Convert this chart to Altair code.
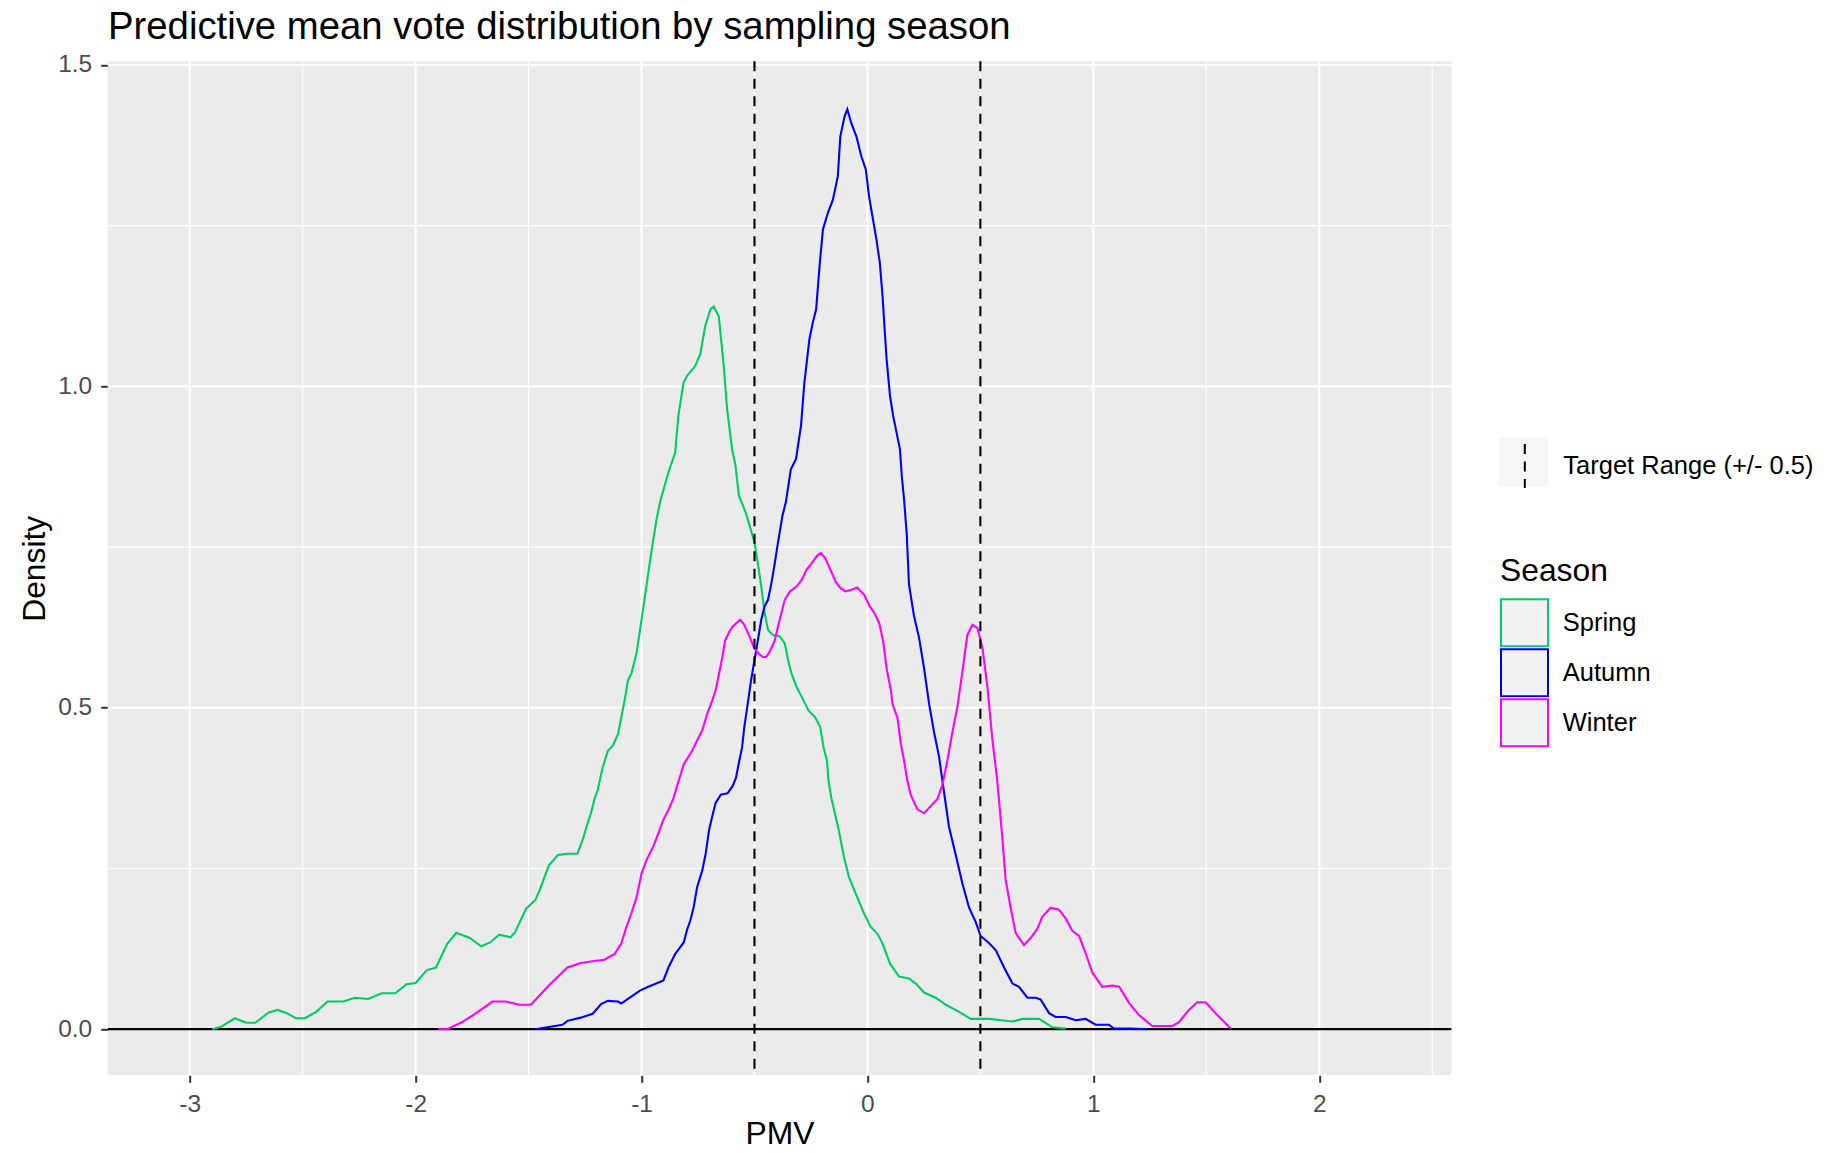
import altair as alt
import pandas as pd

FONT = "Liberation Sans"

# ---------------- data ----------------
seasons = ["Spring", "Autumn", "Winter"]
season_colors = ["#00CD66", "#0000FF", "#FF00FF"]

spring_x = [-2.90, -2.86, -2.80, -2.75, -2.71, -2.65, -2.61, -2.57, -2.53, -2.49,
            -2.44, -2.39, -2.32, -2.27, -2.21, -2.15, -2.09, -2.04, -2.00, -1.95,
            -1.91, -1.86, -1.82, -1.76, -1.71, -1.67, -1.63, -1.58, -1.56, -1.51,
            -1.47, -1.45, -1.41, -1.37, -1.33, -1.284, -1.261, -1.239, -1.224, -1.209,
            -1.194, -1.184, -1.172, -1.149, -1.127, -1.104, -1.090, -1.075, -1.060, -1.045,
            -1.022, -1.000, -0.985, -0.970, -0.955, -0.935, -0.918, -0.881, -0.851, -0.837,
            -0.814, -0.799, -0.762, -0.740, -0.718, -0.695, -0.680, -0.658, -0.636, -0.621,
            -0.599, -0.584, -0.569, -0.539, -0.517, -0.500, -0.485, -0.470, -0.455, -0.440,
            -0.418, -0.388, -0.366, -0.351, -0.336, -0.313, -0.291, -0.261, -0.231, -0.209,
            -0.194, -0.179, -0.172, -0.160, -0.127, -0.104, -0.082, -0.052, -0.015, 0.015,
            0.045, 0.066, 0.100, 0.140, 0.184, 0.214, 0.251, 0.302, 0.347, 0.406,
            0.457, 0.538, 0.597, 0.642, 0.686, 0.760, 0.819, 0.878]
spring_y = [0.000, 0.004, 0.017, 0.010, 0.010, 0.026, 0.030, 0.025, 0.017, 0.017,
            0.027, 0.043, 0.043, 0.049, 0.047, 0.056, 0.056, 0.070, 0.072, 0.092,
            0.096, 0.133, 0.150, 0.142, 0.129, 0.135, 0.147, 0.143, 0.151, 0.188,
            0.201, 0.217, 0.255, 0.271, 0.273, 0.273, 0.294, 0.320, 0.336, 0.357,
            0.372, 0.388, 0.407, 0.433, 0.441, 0.459, 0.485, 0.511, 0.543, 0.553,
            0.585, 0.637, 0.673, 0.710, 0.746, 0.790, 0.820, 0.866, 0.897, 0.954,
            1.006, 1.016, 1.032, 1.050, 1.094, 1.120, 1.124, 1.109, 1.032, 0.964,
            0.902, 0.877, 0.830, 0.804, 0.778, 0.757, 0.725, 0.689, 0.647, 0.621,
            0.613, 0.611, 0.600, 0.574, 0.553, 0.532, 0.517, 0.496, 0.485, 0.470,
            0.438, 0.418, 0.386, 0.360, 0.310, 0.268, 0.237, 0.211, 0.180, 0.159,
            0.148, 0.134, 0.102, 0.082, 0.079, 0.071, 0.057, 0.049, 0.038, 0.027,
            0.016, 0.016, 0.014, 0.012, 0.016, 0.016, 0.003, 0.001]

autumn_x = [-1.47, -1.35, -1.328, -1.269, -1.216, -1.179, -1.149, -1.104, -1.090, -1.052,
            -1.007, -0.970, -0.903, -0.881, -0.851, -0.813, -0.799, -0.784, -0.769, -0.754,
            -0.731, -0.716, -0.701, -0.687, -0.672, -0.649, -0.619, -0.597, -0.582, -0.567,
            -0.555, -0.545, -0.530, -0.515, -0.500, -0.485, -0.470, -0.455, -0.440, -0.425,
            -0.410, -0.396, -0.376, -0.361, -0.339, -0.316, -0.294, -0.279, -0.257, -0.242,
            -0.227, -0.212, -0.197, -0.175, -0.153, -0.131, -0.120, -0.101, -0.089, -0.071,
            -0.049, -0.027, -0.007, 0.007, 0.025, 0.040, 0.055, 0.067, 0.077, 0.085,
            0.100, 0.114, 0.129, 0.144, 0.152, 0.162, 0.174, 0.184, 0.206, 0.228,
            0.251, 0.273, 0.295, 0.317, 0.339, 0.361, 0.391, 0.420, 0.450, 0.479,
            0.501, 0.538, 0.568, 0.605, 0.642, 0.671, 0.708, 0.745, 0.767, 0.804,
            0.833, 0.878, 0.922, 0.966, 1.010, 1.069, 1.091, 1.165, 1.239]
autumn_y = [0.000, 0.007, 0.013, 0.018, 0.024, 0.039, 0.044, 0.043, 0.040, 0.049,
            0.060, 0.066, 0.076, 0.096, 0.117, 0.135, 0.154, 0.169, 0.190, 0.221,
            0.247, 0.273, 0.310, 0.331, 0.352, 0.365, 0.367, 0.378, 0.391, 0.418,
            0.438, 0.470, 0.506, 0.543, 0.574, 0.605, 0.637, 0.658, 0.668, 0.694,
            0.725, 0.757, 0.799, 0.820, 0.871, 0.887, 0.939, 1.006, 1.073, 1.099,
            1.120, 1.187, 1.244, 1.270, 1.290, 1.327, 1.389, 1.420, 1.431, 1.409,
            1.389, 1.358, 1.337, 1.296, 1.259, 1.228, 1.192, 1.140, 1.084, 1.042,
            0.985, 0.954, 0.928, 0.902, 0.861, 0.825, 0.770, 0.692, 0.643, 0.610,
            0.561, 0.506, 0.462, 0.424, 0.369, 0.315, 0.271, 0.227, 0.189, 0.167,
            0.145, 0.134, 0.123, 0.096, 0.071, 0.066, 0.049, 0.049, 0.046, 0.025,
            0.019, 0.019, 0.014, 0.016, 0.007, 0.007, 0.001, 0.001, 0.000]

winter_x = [-1.90, -1.86, -1.80, -1.74, -1.66, -1.60, -1.54, -1.49, -1.41, -1.328,
            -1.269, -1.209, -1.164, -1.119, -1.090, -1.067, -1.045, -1.022, -1.000, -0.978,
            -0.948, -0.925, -0.903, -0.881, -0.858, -0.836, -0.813, -0.799, -0.776, -0.754,
            -0.731, -0.709, -0.687, -0.672, -0.657, -0.642, -0.630, -0.612, -0.597, -0.582,
            -0.563, -0.545, -0.522, -0.500, -0.481, -0.463, -0.448, -0.433, -0.410, -0.396,
            -0.381, -0.366, -0.343, -0.313, -0.291, -0.269, -0.246, -0.224, -0.206, -0.187,
            -0.164, -0.142, -0.119, -0.097, -0.067, -0.045, -0.015, 0.010, 0.030, 0.052,
            0.070, 0.085, 0.104, 0.111, 0.133, 0.147, 0.162, 0.177, 0.192, 0.221,
            0.251, 0.280, 0.310, 0.332, 0.354, 0.376, 0.398, 0.420, 0.442, 0.465,
            0.487, 0.509, 0.531, 0.553, 0.575, 0.597, 0.612, 0.634, 0.656, 0.693,
            0.723, 0.752, 0.774, 0.811, 0.848, 0.878, 0.907, 0.937, 0.966, 0.996,
            1.040, 1.084, 1.114, 1.158, 1.202, 1.261, 1.350, 1.379, 1.423, 1.460,
            1.497, 1.541, 1.608]
winter_y = [0.000, 0.000, 0.010, 0.023, 0.043, 0.043, 0.038, 0.038, 0.068, 0.096,
            0.103, 0.106, 0.108, 0.117, 0.133, 0.159, 0.180, 0.205, 0.242, 0.263,
            0.284, 0.305, 0.326, 0.341, 0.360, 0.386, 0.412, 0.420, 0.433, 0.449,
            0.465, 0.491, 0.511, 0.527, 0.553, 0.579, 0.605, 0.618, 0.626, 0.631,
            0.637, 0.629, 0.611, 0.592, 0.584, 0.579, 0.579, 0.587, 0.605, 0.626,
            0.647, 0.668, 0.681, 0.689, 0.699, 0.715, 0.725, 0.736, 0.741, 0.733,
            0.715, 0.697, 0.686, 0.681, 0.684, 0.687, 0.676, 0.658, 0.648, 0.632,
            0.603, 0.561, 0.527, 0.506, 0.484, 0.446, 0.418, 0.386, 0.364, 0.342,
            0.336, 0.347, 0.358, 0.380, 0.418, 0.462, 0.501, 0.555, 0.613, 0.629,
            0.624, 0.594, 0.533, 0.451, 0.386, 0.298, 0.232, 0.189, 0.150, 0.131,
            0.142, 0.156, 0.175, 0.189, 0.186, 0.172, 0.153, 0.145, 0.118, 0.088,
            0.066, 0.068, 0.066, 0.041, 0.022, 0.005, 0.005, 0.011, 0.030, 0.042,
            0.042, 0.025, 0.001]

major_x = [-3, -2, -1, 0, 1, 2]
minor_x = [-2.5, -1.5, -0.5, 0.5, 1.5, 2.5]
major_y = [0.0, 0.5, 1.0, 1.5]
minor_y = [0.25, 0.75, 1.25]
target_x = [-0.5, 0.5]
target_label = "Target Range (+/- 0.5)"
key_box_label = "key box"   # grey key background; its label is drawn empty

title_text = "Predictive mean vote distribution by sampling season"
x_title = "PMV"
y_title = "Density"
legend_title = "Season"

# ---------------- build tables ----------------
rows = []
for name, xs, ys in [("Spring", spring_x, spring_y),
                     ("Autumn", autumn_x, autumn_y),
                     ("Winter", winter_x, winter_y)]:
    for i, (a, b) in enumerate(zip(xs, ys)):
        rows.append({"x": a, "y": b, "Season": name, "i": i})
curves = pd.DataFrame(rows)

X_DOMAIN = [-3.363, 2.585]
Y_DOMAIN = [-0.0717, 1.5057]
W, H = 1343.7, 1014

xscale = alt.Scale(domain=X_DOMAIN, nice=False, zero=False)
yscale = alt.Scale(domain=Y_DOMAIN, nice=False, zero=False)

x_axis = alt.Axis(values=major_x, labelExpr="'' + datum.value", grid=False, domain=False,
                  tickSize=7, tickWidth=2, tickColor="#333333",
                  labelFont=FONT, labelFontSize=24.5, labelColor="#4D4D4D", labelPadding=10,
                  title=x_title, titleFont=FONT, titleFontSize=31.8, titleColor="black",
                  titleFontWeight="normal", titleBaseline="alphabetic", titleY=68.5)
y_axis = alt.Axis(values=major_y, format=".1f", grid=False, domain=False,
                  tickSize=7, tickWidth=2, tickColor="#333333",
                  labelFont=FONT, labelFontSize=24.5, labelColor="#4D4D4D", labelPadding=9,
                  title=y_title, titleFont=FONT, titleFontSize=31.8, titleColor="black",
                  titleFontWeight="normal", titleBaseline="alphabetic", titleX=-62.7)


def X():
    return alt.X("x:Q", scale=xscale, axis=x_axis)


def Y():
    return alt.Y("y:Q", scale=yscale, axis=y_axis)


def vrules(vals, width):
    return alt.Chart(pd.DataFrame({"x": vals})).mark_rule(
        color="white", strokeWidth=width).encode(x=X())


def hrules(vals, width):
    return alt.Chart(pd.DataFrame({"y": vals})).mark_rule(
        color="white", strokeWidth=width).encode(y=Y())


grid = [vrules(minor_x, 1.1), hrules(minor_y, 1.1),
        vrules(major_x, 2.1), hrules(major_y, 2.1)]

zero_line = alt.Chart(pd.DataFrame({"y": [0.0]})).mark_rule(
    color="black", strokeWidth=2.2).encode(y=Y())

lines = alt.Chart(curves).mark_line(strokeWidth=2.1, interpolate="linear").encode(
    x=X(), y=Y(),
    color=alt.Color("Season:N",
                    scale=alt.Scale(domain=seasons, range=season_colors),
                    legend=alt.Legend(title=legend_title, orient="none",
                                      legendX=1392.3, legendY=495, padding=0,
                                      symbolType="square", symbolSize=2209,
                                      symbolFillColor="#F2F2F2", symbolStrokeWidth=2,
                                      clipHeight=49.4,
                                      labelFont=FONT, labelFontSize=25.5, labelColor="black",
                                      labelOffset=13.7, rowPadding=0, labelLimit=400,
                                      titleFont=FONT, titleFontSize=31.8, titleColor="black",
                                      titleFontWeight="normal", titlePadding=10)),
    order=alt.Order("i:Q"),
)

vl_df = pd.DataFrame({"x": target_x, "kind": [target_label] * len(target_x)})
vlines = alt.Chart(vl_df).mark_rule(color="black", strokeWidth=2.1).encode(
    x=X(),
    strokeDash=alt.StrokeDash("kind:N",
                              scale=alt.Scale(domain=[target_label], range=[[10, 7.5]]),
                              legend=alt.Legend(title=None, orient="none",
                                                legendX=1394.1, legendY=381.7, padding=0,
                                                symbolType="M0,-1V1", symbolSize=1936,
                                                symbolStrokeColor="black", symbolStrokeWidth=2,
                                                labelFont=FONT, labelFontSize=25.5,
                                                labelColor="black", labelOffset=15.5,
                                                labelLimit=400, zindex=2)),
)

box_df = pd.DataFrame({"x": target_x, "y": [0.0] * len(target_x),
                       "box": [key_box_label] * len(target_x)})
box_layer = alt.Chart(box_df).transform_filter("datum.x > 100").mark_point(
    filled=True, color="#F2F2F2").encode(
    x=X(), y=Y(),
    shape=alt.Shape("box:N",
                    scale=alt.Scale(domain=[key_box_label], range=["square"]),
                    legend=alt.Legend(title=None, orient="none",
                                      legendX=1391.6, legendY=376.2, padding=0,
                                      symbolType="square", symbolSize=2401,
                                      symbolFillColor="#F2F2F2", symbolStrokeWidth=0,
                                      labelExpr="''", labelFont=FONT, labelFontSize=25.5,
                                      zindex=1)),
)

title_layer = alt.Chart(pd.DataFrame({"t": [title_text]})).mark_text(
    align="left", baseline="alphabetic", font=FONT, fontSize=38.3, color="black"
).encode(text="t:N", x=alt.value(0.3), y=alt.value(-22.8))

chart = alt.layer(*grid, zero_line, lines, box_layer, vlines, title_layer).properties(
    width=W, height=H,
    background="white",
    autosize=alt.AutoSizeParams(type="none"),
    padding={"left": 99.7, "top": 53.3, "right": 368.6, "bottom": 69.7},
).configure_view(fill="#EBEBEB", stroke=None)

chart.save("out.html", embed_options={"renderer": "svg", "actions": False})
